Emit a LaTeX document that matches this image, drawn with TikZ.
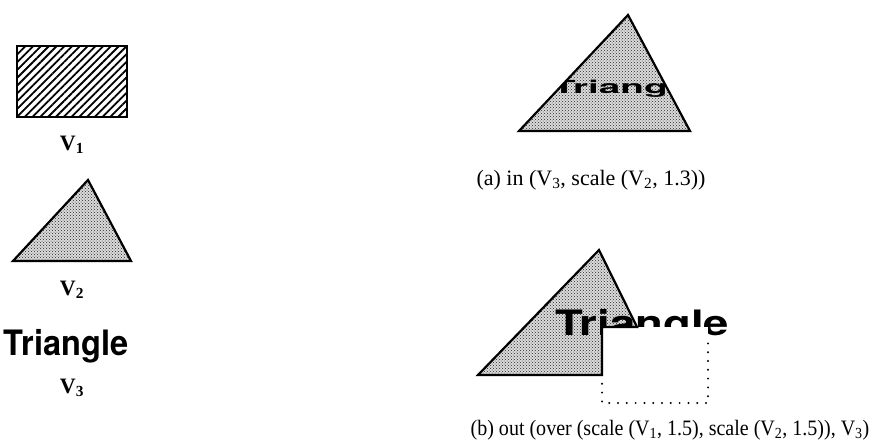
\documentclass[tikz,border=0pt]{standalone}
\usepackage{fontspec}
\setmainfont{Liberation Serif}
\newfontfamily\heros{TeX Gyre Heros}
\usetikzlibrary{patterns,patterns.meta}
\tikzset{
  shapeline/.style={line width=2.2pt,line join=miter},
  dotfill/.style={preaction={fill=black!14},pattern=crosshatch dots,pattern color=black!85},
  hatchfill/.style={pattern={Lines[angle=45,distance=5.5pt,line width=1.8pt]}},
  vlabel/.style={font=\fontsize{22}{24}\selectfont\bfseries,anchor=base},
  caption/.style={font=\fontsize{22}{24}\selectfont,anchor=base},
  tribig/.style={font=\heros\fontsize{35}{38}\selectfont\bfseries,anchor=base},
  trismall/.style={font=\heros\fontsize{18}{20}\selectfont\bfseries,anchor=base},
  cutedge/.style={line width=2.2pt,line cap=round,dash pattern=on 0pt off 8.8pt},
}

\begin{document}
\begin{tikzpicture}[x=1pt,y=-1pt]
  \useasboundingbox (0,0) rectangle (874,445);
  % left column: the three values
  \draw[hatchfill,shapeline] (17,46) rectangle (127,117);
  \node[vlabel] (v1) at (72,150) {V\textsubscript{1}};
  \draw[dotfill,shapeline] (13,261) -- (88,180) -- (131,261) -- cycle;
  \node[vlabel] (v2) at (72,295) {V\textsubscript{2}};
  \node[tribig] (tri) at (66,355) {\scalebox{0.93}[1]{Triangle}};
  \node[vlabel] (v3) at (72,393) {V\textsubscript{3}};

  % (a) text clipped to the scaled triangle
  \fill[dotfill] (519,131) -- (628,15) -- (690,131) -- cycle;
  \begin{scope}
    \clip (519,131) -- (628,15) -- (690,131) -- cycle;
    \node[trismall] (tria) at (626,93) {\scalebox{2.15}[1]{Triangle}};
  \end{scope}
  \draw[shapeline] (519,131) -- (628,15) -- (690,131) -- cycle;
  \node[caption] (capa) at (591,185)
    {(a) in (V\textsubscript{3}, scale (V\textsubscript{2}, 1.3))};

  % (b) triangle and text with the rectangle taken out
  \fill[dotfill] (478,375) -- (599,250) -- (660,375) -- cycle;
  \node[tribig] (trib) at (642,335) {\scalebox{1.3}[1]{Triangle}};
  \fill[white] (602,327) rectangle (708,403);
  \draw[shapeline] (478,375) -- (599,250) -- (637,327) -- (602,327) -- (602,375) -- cycle;
  \draw[cutedge] (602,375) -- (602,403) -- (708,403) -- (708,342);
  \node[caption] (capb) at (670,435)
    {\scalebox{0.91}[1]{(b) out (over (scale (V\textsubscript{1}, 1.5), scale (V\textsubscript{2}, 1.5)), V\textsubscript{3})}};
\end{tikzpicture}
\end{document}
